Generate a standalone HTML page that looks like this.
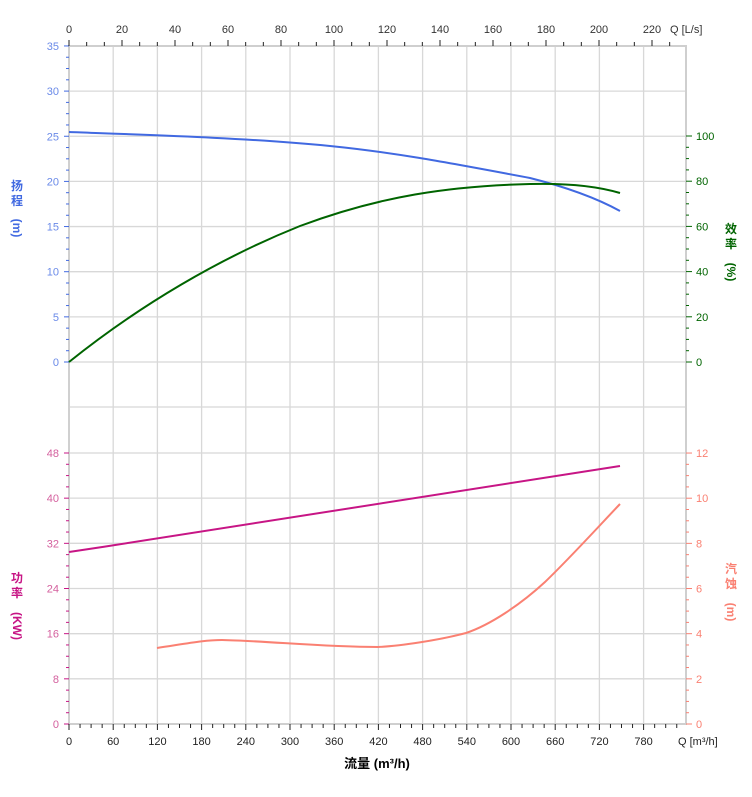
<!DOCTYPE html>
<html><head><meta charset="utf-8"><style>
html,body{margin:0;padding:0;background:#fff}
svg{display:block;font-family:"Liberation Sans","Noto Sans CJK SC",sans-serif}
</style></head><body>
<svg id="s" width="752" height="797" viewBox="0 0 752 797" xmlns="http://www.w3.org/2000/svg">
<g id="grid"></g>
<g id="ticks"></g>
<path d="M69,132 C150,135 250,138 330,146 C400,153 460,165 530,178 C570,188 600,200 620,211" fill="none" stroke="#4169e1" stroke-width="2"/>
<path d="M69,362 C140,305 220,258 300,226 C380,196 450,186 530,184 C570,183 600,187 620,193" fill="none" stroke="#006400" stroke-width="2"/>
<path d="M69,552 C250,525 430,496 620,466" fill="none" stroke="#c71585" stroke-width="2"/>
<path d="M157,648 C190,643 205,640 222,640 C270,641 320,647 378,647 C400,646 440,640 466,633 C490,625 520,605 545,582 C570,558 600,525 620,504" fill="none" stroke="#fa8072" stroke-width="2"/>
<g font-size="12" font-weight="bold">
<text x="17" y="190" fill="#4169e1" text-anchor="middle">扬</text>
<text x="17" y="205" fill="#4169e1" text-anchor="middle">程</text>
<text x="17" y="232" fill="#4169e1" text-anchor="middle" transform="rotate(90 17 228)">(m)</text>
<text x="17" y="582" fill="#c71585" text-anchor="middle">功</text>
<text x="17" y="597" fill="#c71585" text-anchor="middle">率</text>
<text x="17" y="630" fill="#c71585" text-anchor="middle" transform="rotate(90 17 626)">(KW)</text>
<text x="731" y="233" fill="#006400" text-anchor="middle">效</text>
<text x="731" y="248" fill="#006400" text-anchor="middle">率</text>
<text x="731" y="276" fill="#006400" text-anchor="middle" transform="rotate(90 731 272)">(%)</text>
<text x="731" y="573" fill="#fa8072" text-anchor="middle">汽</text>
<text x="731" y="588" fill="#fa8072" text-anchor="middle">蚀</text>
<text x="731" y="616" fill="#fa8072" text-anchor="middle" transform="rotate(90 731 612)">(m)</text>
<text x="377" y="768" fill="#000" text-anchor="middle" font-size="13">流量 (m³/h)</text>
</g>
</svg>
<script>
var NS="http://www.w3.org/2000/svg";
function el(p,t,a,txt){var e=document.createElementNS(NS,t);for(var k in a)e.setAttribute(k,a[k]);if(txt!==undefined)e.textContent=txt;document.getElementById(p).appendChild(e);}
var X0=69,XR=686,px=44.2/60;
for(var q=60;q<=780;q+=60){var x=X0+q*px;el("grid","line",{x1:x,y1:46,x2:x,y2:724,stroke:"#d8d8d8","stroke-width":1.3});}
for(var h=0;h<=35;h+=5){var y=362-h*9.03;el("grid","line",{x1:X0,y1:y,x2:XR,y2:y,stroke:"#d8d8d8","stroke-width":1.3});}
el("grid","line",{x1:X0,y1:407,x2:XR,y2:407,stroke:"#d8d8d8","stroke-width":1.3});
for(var p=0;p<=48;p+=8){var y=724-p*5.646;el("grid","line",{x1:X0,y1:y,x2:XR,y2:y,stroke:"#d8d8d8","stroke-width":1.3});}
el("grid","rect",{x:X0,y:46,width:XR-X0,height:678,fill:"none",stroke:"#cfcfcf","stroke-width":2});
el("grid","line",{x1:X0,y1:46,x2:X0,y2:724,stroke:"#d0d0d0","stroke-width":2});
for(var h=0;h<=35;h+=1.25){var y=362-h*9.03;var maj=(h%5==0);el("ticks","line",{x1:maj?64:66,y1:y,x2:69,y2:y,stroke:"#4169e1","stroke-width":1});if(maj)el("ticks","text",{x:59,y:y+4,fill:"#6a8ae8","font-size":11,"text-anchor":"end"},h);}
for(var p=0;p<=48;p+=2){var y=724-p*5.646;var maj=(p%8==0);el("ticks","line",{x1:maj?64:66,y1:y,x2:69,y2:y,stroke:"#c71585","stroke-width":1});if(maj)el("ticks","text",{x:59,y:y+4,fill:"#d4609e","font-size":11,"text-anchor":"end"},p);}
for(var e=0;e<=100;e+=5){var y=362-e*2.26;var maj=(e%20==0);el("ticks","line",{x1:686,y1:y,x2:maj?692:689,y2:y,stroke:"#006400","stroke-width":1});if(maj)el("ticks","text",{x:696,y:y+4,fill:"#006400","font-size":11},e);}
for(var n=0;n<=12;n+=0.5){var y=724-n*22.58;var maj=(n%2==0);el("ticks","line",{x1:686,y1:y,x2:maj?692:689,y2:y,stroke:"#fa8072","stroke-width":1});if(maj)el("ticks","text",{x:696,y:y+4,fill:"#fa8072","font-size":11},n);}
for(var q=0;q<=830;q+=15){var x=X0+q*px;var maj=(q%60==0);el("ticks","line",{x1:x,y1:724,x2:x,y2:maj?730:728,stroke:"#222","stroke-width":1});if(maj&&q<=780)el("ticks","text",{x:x,y:745,fill:"#222","font-size":11,"text-anchor":"middle"},q);}
el("ticks","text",{x:678,y:745,fill:"#222","font-size":11},"Q [m³/h]");
var pl=53/20;
for(var i=0;i<=40;i++){var l=i*20/3;var x=X0+l*pl;if(x>686)break;var maj=(i%3==0);el("ticks","line",{x1:x,y1:46,x2:x,y2:maj?40:42,stroke:"#222","stroke-width":1});if(maj)el("ticks","text",{x:x,y:33,fill:"#333","font-size":11,"text-anchor":"middle"},Math.round(l));}
el("ticks","text",{x:670,y:33,fill:"#333","font-size":11},"Q [L/s]");
</script>
</body></html>
